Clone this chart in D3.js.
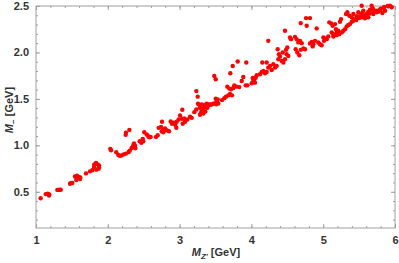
<!DOCTYPE html>
<html>
<head>
<meta charset="utf-8">
<script src="https://cdn.jsdelivr.net/npm/d3@7"></script>
<style>
  body { margin: 0; background: #fff; }
  text { font-family: "Liberation Sans", Arial, sans-serif; }
</style>
</head>
<body>
<div id="chart"></div>
<script>
// M_Z' [GeV]
var mZ = [
  1.065, 1.135, 1.163, 1.185, 1.181, 1.297, 1.325, 1.344, 1.474, 1.488, 1.506,
  1.543, 1.571, 1.595, 1.617, 1.561, 1.613, 1.696, 1.752, 1.784, 1.812, 1.836,
  1.859, 1.877, 1.808, 1.84, 1.873, 1.877, 2.035, 2.045, 2.118, 2.146, 2.17,
  2.194, 2.221, 2.253, 2.291, 2.305, 2.249, 2.253, 2.30, 2.333, 2.355, 2.351,
  2.379, 2.365, 2.383, 2.444, 2.467, 2.494, 2.486, 2.508, 2.542, 2.564, 2.578,
  2.597, 2.671, 2.695, 2.709, 2.741, 2.755, 2.779, 2.797, 2.751, 2.773, 2.82,
  2.852, 2.876, 2.894, 2.922, 2.94, 2.954, 2.96, 2.987, 3.006, 3.033, 3.043,
  3.075, 3.065, 3.038, 3.107, 3.145, 3.169, 3.205, 3.233, 3.256, 3.284, 3.312,
  3.33, 3.358, 3.274, 3.308, 3.344, 3.377, 3.405, 3.433, 3.493, 3.517, 3.531,
  3.511, 3.233, 3.252, 3.298, 3.322, 3.34, 3.308, 3.368, 3.4, 3.437, 3.386,
  3.469, 3.503, 3.539, 3.483, 3.503, 3.591, 3.623, 3.646, 3.678, 3.702, 3.73,
  3.664, 3.692, 3.716, 3.748, 3.762, 3.795, 3.831, 3.706, 3.74, 3.809, 3.929,
  3.865, 3.887, 3.921, 3.943, 4.004, 4.026, 4.04, 4.018, 4.06, 4.074, 4.05,
  4.12, 4.143, 4.166, 4.189, 4.213, 4.152, 4.213, 4.235, 4.259, 4.283, 4.235,
  4.305, 4.329, 4.352, 4.375, 4.398, 4.422, 4.444, 4.468, 4.366, 4.384, 4.491,
  4.514, 4.436, 4.468, 4.538, 4.552, 4.607, 4.631, 4.653, 4.677, 4.701, 4.723,
  4.747, 4.687, 4.639, 4.667, 4.617, 4.482, 4.5, 4.687, 4.761, 4.816, 4.77,
  4.84, 4.862, 4.886, 4.909, 4.932, 4.955, 4.979, 4.816, 4.853, 5.002, 5.025,
  5.049, 5.011, 5.071, 5.085, 5.109, 5.132, 5.164, 5.178, 5.118, 5.141, 5.188,
  5.21, 5.141, 5.188, 5.224, 5.258, 5.28, 5.304, 5.327, 5.35, 5.373, 5.397,
  5.234, 5.248, 5.318, 5.336, 5.364, 5.397, 5.42, 5.443, 5.467, 5.489, 5.503,
  5.522, 5.545, 5.536, 5.559, 5.582, 5.606, 5.628, 5.652, 5.675, 5.689, 5.698,
  5.721, 5.745, 5.767, 5.791, 5.837, 5.861, 5.907, 5.93, 5.954, 5.824, 5.536,
  5.582, 5.628, 3.284, 5.42, 5.46, 5.5, 5.55, 5.6, 5.65, 5.7, 5.75, 5.8, 5.85, 5.9
];
// M_- [GeV]
var mChi = [
  0.43, 0.475, 0.478, 0.47, 0.46, 0.52, 0.522, 0.522, 0.587, 0.594, 0.594,
  0.665, 0.673, 0.659, 0.655, 0.627, 0.637, 0.698, 0.72, 0.731, 0.795, 0.81,
  0.795, 0.784, 0.767, 0.738, 0.749, 0.763, 0.962, 0.947, 0.925, 0.897, 0.886,
  0.892, 0.903, 0.911, 0.929, 0.943, 1.113, 1.135, 1.166, 0.972, 1.0, 0.983,
  0.997, 1.019, 0.968, 1.044, 1.027, 1.044, 1.07, 1.141, 1.116, 1.098, 1.087,
  1.091, 1.091, 1.108, 1.188, 1.199, 1.254, 1.167, 1.181, 1.152, 1.141, 1.163,
  1.152, 1.256, 1.232, 1.243, 1.221, 1.189, 1.254, 1.278, 1.322, 1.286, 1.232,
  1.254, 1.289, 1.383, 1.278, 1.307, 1.296, 1.357, 1.386, 1.448, 1.405, 1.379,
  1.343, 1.365, 1.437, 1.441, 1.433, 1.448, 1.441, 1.441, 1.451, 1.473, 1.495,
  1.441, 1.584, 1.524, 1.351, 1.376, 1.405, 1.386, 1.416, 1.43, 1.437, 1.405,
  1.448, 1.502, 1.451, 1.746, 1.711, 1.487, 1.508, 1.524, 1.538, 1.552, 1.538,
  1.632, 1.611, 1.603, 1.617, 1.646, 1.632, 1.627, 1.776, 1.854, 1.902, 1.891,
  1.692, 1.735, 1.646, 1.646, 1.668, 1.692, 1.711, 1.725, 1.729, 1.754, 1.675,
  1.765, 1.79, 1.8, 1.776, 1.79, 1.891, 1.891, 1.837, 1.855, 1.811, 2.125,
  1.873, 1.837, 1.855, 1.927, 1.956, 1.909, 1.891, 1.927, 2.035, 1.981, 1.981,
  1.963, 2.0, 2.233, 2.162, 2.143, 2.168, 2.143, 2.108, 2.125, 2.1, 2.043,
  2.035, 2.028, 2.0, 1.97, 2.035, 2.028, 2.054, 2.316, 2.37, 2.37, 2.287,
  2.114, 2.089, 2.125, 2.259, 2.108, 2.089, 2.078, 2.097, 2.065, 2.162, 2.151,
  2.143, 2.125, 2.172, 2.324, 2.313, 2.287, 2.305, 2.251, 2.216, 2.197, 2.216,
  2.233, 2.172, 2.186, 2.197, 2.216, 2.233, 2.251, 2.28, 2.295, 2.305, 2.33,
  2.33, 2.359, 2.414, 2.432, 2.395, 2.378, 2.414, 2.359, 2.389, 2.432, 2.378,
  2.403, 2.424, 2.503, 2.449, 2.395, 2.414, 2.438, 2.46, 2.503, 2.475, 2.414,
  2.449, 2.432, 2.438, 2.46, 2.475, 2.449, 2.497, 2.503, 2.486, 2.424, 2.378,
  2.367, 2.378, 1.33, 2.34, 2.35, 2.37, 2.385, 2.40, 2.42, 2.44, 2.45, 2.47, 2.49, 2.5
];
var xTickLabels = [1, 2, 3, 4, 5, 6];
var yTickLabels = [0.5, 1.0, 1.5, 2.0, 2.5];

var width = 399, height = 263;
var pLeft = 36, pRight = 395, pTop = 6, pBottom = 228;

var svg = d3.select("#chart").append("svg")
  .attr("width", width)
  .attr("height", height);

var x = d3.scaleLinear().domain([1, 6]).range([pLeft, pRight]);
var y = d3.scaleLinear().domain([0.11, 2.5]).range([pBottom, pTop]);

var frameColor = "#a0a0a0";
var labelColor = "#333";

// minor ticks
var xMinor = d3.range(1, 6.001, 0.2);
var yMinor = d3.range(0.2, 2.501, 0.1);

function drawAxis(axis, tf, showLabels) {
  var g = svg.append("g").attr("transform", tf).call(axis);
  g.select(".domain").remove();
  g.selectAll(".tick line").attr("stroke", frameColor);
  g.selectAll(".tick text")
    .attr("fill", labelColor)
    .style("font-size", "11px")
    .style("font-weight", "bold");
  if (!showLabels) g.selectAll(".tick text").remove();
  return g;
}

// bottom / top
drawAxis(d3.axisBottom(x).tickValues(xMinor).tickSize(-2).tickFormat(""), "translate(0," + pBottom + ")", false);
drawAxis(d3.axisBottom(x).tickValues(xTickLabels).tickSize(-4).tickPadding(8).tickFormat(d3.format("d")), "translate(0," + pBottom + ")", true);
drawAxis(d3.axisTop(x).tickValues(xMinor).tickSize(-2).tickFormat(""), "translate(0," + pTop + ")", false);
drawAxis(d3.axisTop(x).tickValues(xTickLabels).tickSize(-4), "translate(0," + pTop + ")", false);
// left / right
drawAxis(d3.axisLeft(y).tickValues(yMinor).tickSize(-2).tickFormat(""), "translate(" + pLeft + ",0)", false);
drawAxis(d3.axisLeft(y).tickValues(yTickLabels).tickSize(-4).tickPadding(7).tickFormat(d3.format(".1f")), "translate(" + pLeft + ",0)", true);
drawAxis(d3.axisRight(y).tickValues(yMinor).tickSize(-2).tickFormat(""), "translate(" + pRight + ",0)", false);
drawAxis(d3.axisRight(y).tickValues(yTickLabels).tickSize(-4), "translate(" + pRight + ",0)", false);

// frame
svg.append("rect")
  .attr("x", pLeft).attr("y", pTop)
  .attr("width", pRight - pLeft).attr("height", pBottom - pTop)
  .attr("fill", "none")
  .attr("stroke", frameColor)
  .attr("stroke-width", 1);

// points
var pts = mZ.map(function(d, i) { return [d, mChi[i]]; });
svg.append("g").selectAll("circle")
  .data(pts)
  .enter()
  .append("circle")
  .attr("cx", function(d) { return x(d[0]); })
  .attr("cy", function(d) { return y(d[1]); })
  .attr("r", 2.2)
  .attr("fill", "#ff0000");

// axis labels
var xl = svg.append("text")
  .attr("x", 216)
  .attr("y", 256)
  .attr("text-anchor", "middle")
  .attr("fill", labelColor)
  .style("font-size", "11px")
  .style("font-weight", "bold");
xl.append("tspan").style("font-style", "italic").text("M");
xl.append("tspan").attr("dy", 3).style("font-size", "8px").style("font-style", "italic").text("Z'");
xl.append("tspan").attr("dy", -3).text(" [GeV]");

var yl = svg.append("text")
  .attr("transform", "translate(13,110) rotate(-90)")
  .attr("text-anchor", "middle")
  .attr("fill", labelColor)
  .style("font-size", "11px")
  .style("font-weight", "bold");
yl.append("tspan").style("font-style", "italic").text("M");
yl.append("tspan").attr("dy", 3).style("font-size", "8px").text("\u2212");
yl.append("tspan").attr("dy", -3).text(" [GeV]");
</script>
</body>
</html>
